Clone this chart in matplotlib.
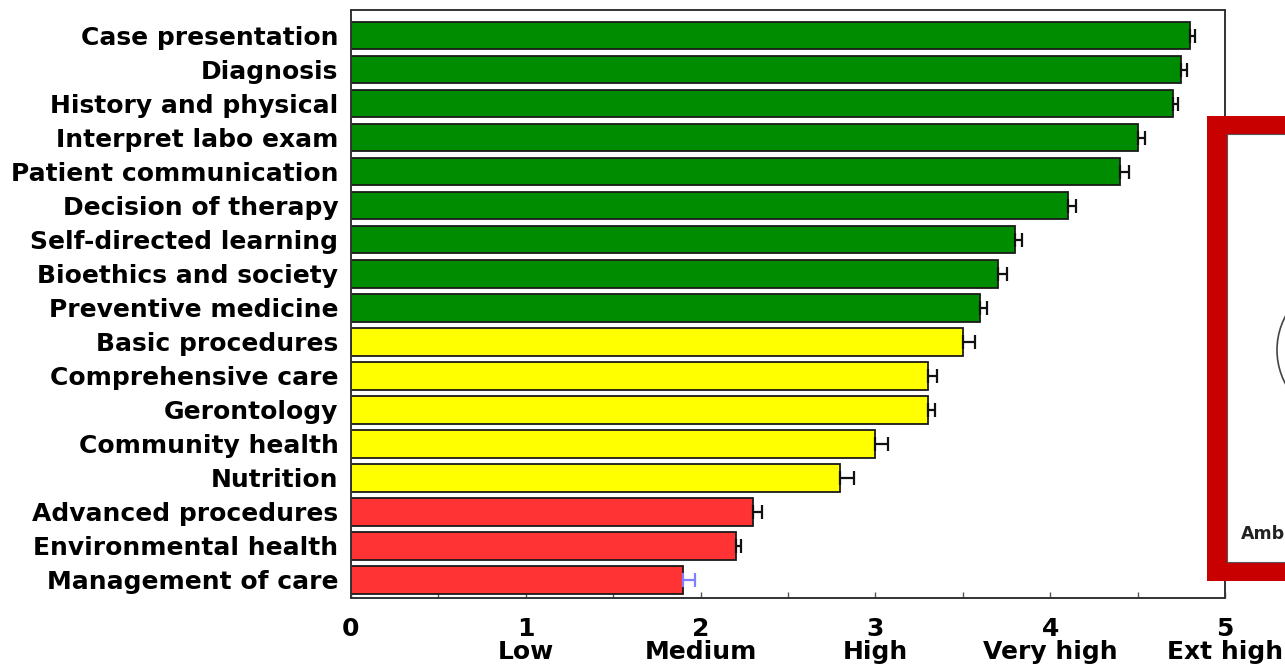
import matplotlib
matplotlib.use("Agg")
import matplotlib.pyplot as plt
from matplotlib.patches import Rectangle, Arc
from matplotlib.ticker import MultipleLocator

plt.rcParams['font.family'] = ['DejaVu Sans']

categories = [
    "Case presentation", "Diagnosis", "History and physical",
    "Interpret labo exam", "Patient communication", "Decision of therapy",
    "Self-directed learning", "Bioethics and society", "Preventive medicine",
    "Basic procedures", "Comprehensive care", "Gerontology",
    "Community health", "Nutrition", "Advanced procedures",
    "Environmental health", "Management of care",
]
scores = [4.8, 4.75, 4.7, 4.5, 4.4, 4.1, 3.8, 3.7, 3.6,
          3.5, 3.3, 3.3, 3.0, 2.8, 2.3, 2.2, 1.9]
errors = [0.03, 0.03, 0.03, 0.04, 0.05, 0.05, 0.04, 0.05, 0.04,
          0.07, 0.05, 0.04, 0.07, 0.08, 0.05, 0.03, 0.07]
levels = ["high"] * 9 + ["mid"] * 5 + ["low"] * 3
level_colors = {"high": "#008c00", "mid": "#ffff00", "low": "#ff3333"}
err_colors = ["#111111"] * 16 + ["#7f7fff"]
tick_values = [0, 1, 2, 3, 4, 5]
tick_names = ["", "Low", "Medium", "High", "Very high", "Ext high"]

W, H = 1285, 672
fig = plt.figure(figsize=(W / 100, H / 100), dpi=100)
ax = fig.add_axes([351 / W, 1 - 598 / H, (1225 - 351) / W, (598 - 10) / H])

ypos = list(range(len(categories)))
ax.barh(ypos, scores, height=0.8,
        color=[level_colors[l] for l in levels],
        edgecolor="#1a1a1a", linewidth=1.3, zorder=2)
for y, s, e, c in zip(ypos, scores, errors, err_colors):
    ax.errorbar(s, y, xerr=[[0], [e]], fmt="none", ecolor=c,
                elinewidth=1.6, capsize=5, capthick=1.6, zorder=3)

ax.set_xlim(0, 5)
ax.set_ylim(16.53, -0.76)
ax.set_yticks(ypos)
ax.set_yticklabels(categories, fontsize=18, fontweight="bold",
                   va="center_baseline")
ax.tick_params(axis="y", length=0, pad=9)

ax.set_xticks(tick_values)
ax.set_xticklabels([f"{v}\n{n}" for v, n in zip(tick_values, tick_names)],
                   fontsize=18, fontweight="bold", linespacing=0.95)
ax.xaxis.set_minor_locator(MultipleLocator(0.5))
ax.tick_params(axis="x", which="both", direction="in", length=4,
               width=1, color="#555555", pad=14)

for sp in ax.spines.values():
    sp.set_color("#333333")
    sp.set_linewidth(1.4)

# framed inset on the right edge
def px_rect(x0, y0, x1, y1, **kw):
    return Rectangle((x0 / W, 1 - y1 / H), (x1 - x0) / W, (y1 - y0) / H,
                     transform=fig.transFigure, **kw)

fig.add_artist(px_rect(1207, 116, 1300, 581, facecolor="#c80000",
                       edgecolor="none", zorder=5))
fig.add_artist(px_rect(1227, 134, 1300, 562, facecolor="white",
                       edgecolor="#555555", linewidth=0.8, zorder=6))
fig.add_artist(Arc((1345 / W, 1 - 350 / H), 136 / W, 140 / H,
                   theta1=120, theta2=240, transform=fig.transFigure,
                   color="#444444", linewidth=1.2, zorder=7))
fig.text(1241 / W, 1 - 534 / H, "Amb", fontsize=12.5, fontweight="bold",
         color="#222222", va="center", ha="left", zorder=7)

fig.savefig("out.png", dpi=100, facecolor="white")
